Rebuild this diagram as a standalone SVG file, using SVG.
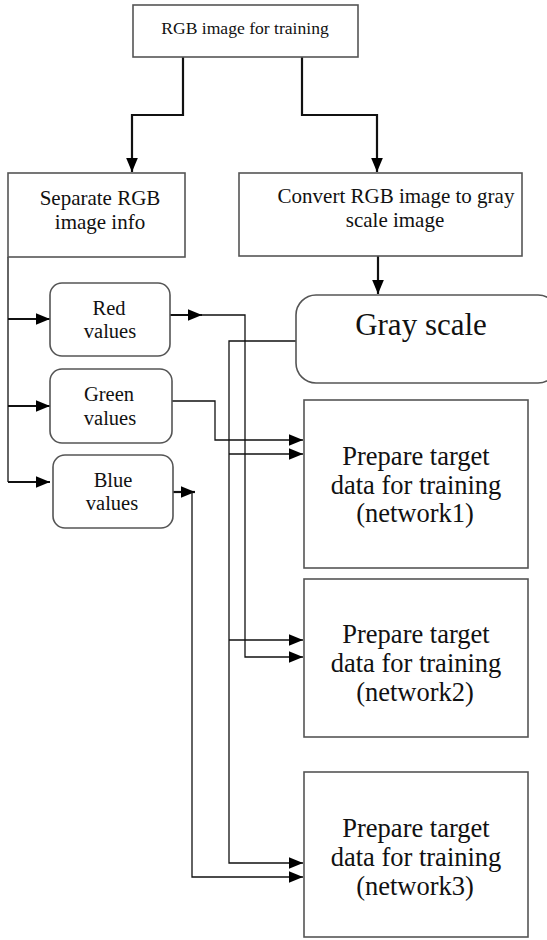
<svg xmlns="http://www.w3.org/2000/svg" width="547" height="940" viewBox="0 0 547 940">
  <style>
    .box { fill: #ffffff; stroke: #555555; stroke-width: 1.6; }
    .lbl { font-family: "Liberation Serif", "Times New Roman", serif; fill: #111111; text-anchor: middle; }
    .wire { fill: none; stroke: #111111; stroke-width: 1.3; }
    .thick { fill: none; stroke: #111111; stroke-width: 2.2; }
  </style>
  <defs>
    <marker id="arrow" viewBox="0 0 12 10" refX="12" refY="5" markerWidth="14" markerHeight="12" markerUnits="userSpaceOnUse" orient="auto">
      <path d="M0,0 L12,5 L0,10 Z" fill="#000000"/>
    </marker>
  </defs>

  <rect width="547" height="940" fill="#ffffff"/>

  <!-- connectors -->
  <g id="connectors">
    <path class="thick" d="M183,57 V115 H132 V172" marker-end="url(#arrow)"/>
    <path class="thick" d="M302,57 V115 H377 V172" marker-end="url(#arrow)"/>
    <path class="thick" d="M378,256 V294" marker-end="url(#arrow)"/>

    <path class="wire" d="M8,257 V482"/>
    <path class="thick" d="M8,319 H50" marker-end="url(#arrow)"/>
    <path class="thick" d="M8,406 H50" marker-end="url(#arrow)"/>
    <path class="thick" d="M8,482 H50" marker-end="url(#arrow)"/>

    <!-- red channel -->
    <path class="thick" d="M166,315 H202" marker-end="url(#arrow)"/>
    <path class="wire" d="M200,315 H245 V657 H303" marker-end="url(#arrow)"/>

    <!-- green channel -->
    <path class="wire" d="M172,401 H215 V440 H303" marker-end="url(#arrow)"/>

    <!-- blue channel -->
    <path class="thick" d="M173,492 H195" marker-end="url(#arrow)"/>
    <path class="wire" d="M192,492 V877 H303" marker-end="url(#arrow)"/>

    <!-- gray scale -->
    <path class="wire" d="M296,341 H229 V863 H303" marker-end="url(#arrow)"/>
    <path class="wire" d="M229,454 H303" marker-end="url(#arrow)"/>
    <path class="wire" d="M229,640 H303" marker-end="url(#arrow)"/>
  </g>

  <g id="rgb-image">
    <rect class="box" x="133" y="5" width="225" height="52"/>
    <text class="lbl" x="245" y="34" font-size="17.6">RGB image for training</text>
  </g>

  <g id="separate">
    <rect class="box" x="8" y="173" width="177" height="84"/>
    <text class="lbl" x="100" y="205" font-size="21">Separate RGB</text>
    <text class="lbl" x="100" y="229" font-size="21">image info</text>
  </g>

  <g id="convert">
    <rect class="box" x="239" y="173" width="283" height="83"/>
    <text class="lbl" x="396" y="203" font-size="21">Convert RGB image to gray</text>
    <text class="lbl" x="395" y="227" font-size="21">scale image</text>
  </g>

  <g id="gray-scale">
    <rect class="box" x="296" y="295" width="262" height="88" rx="20" ry="20"/>
    <text class="lbl" x="421" y="335" font-size="31">Gray scale</text>
  </g>

  <g id="red">
    <rect class="box" x="50" y="283" width="120" height="73" rx="12" ry="12"/>
    <text class="lbl" x="109" y="315" font-size="20.5">Red</text>
    <text class="lbl" x="110" y="338" font-size="20.5">values</text>
  </g>

  <g id="green">
    <rect class="box" x="50" y="369" width="122" height="74" rx="12" ry="12"/>
    <text class="lbl" x="109" y="401" font-size="20.5">Green</text>
    <text class="lbl" x="110" y="425" font-size="20.5">values</text>
  </g>

  <g id="blue">
    <rect class="box" x="53" y="455" width="120" height="73" rx="12" ry="12"/>
    <text class="lbl" x="113" y="487" font-size="20.5">Blue</text>
    <text class="lbl" x="112" y="510" font-size="20.5">values</text>
  </g>

  <g id="network1">
    <rect class="box" x="304" y="400" width="224" height="168"/>
    <text class="lbl" x="416" y="465" font-size="26.5">Prepare target</text>
    <text class="lbl" x="416" y="494" font-size="26.5">data for training</text>
    <text class="lbl" x="415" y="522" font-size="26.5">(network1)</text>
  </g>

  <g id="network2">
    <rect class="box" x="304" y="579" width="224" height="158"/>
    <text class="lbl" x="416" y="643" font-size="26.5">Prepare target</text>
    <text class="lbl" x="416" y="672" font-size="26.5">data for training</text>
    <text class="lbl" x="415" y="701" font-size="26.5">(network2)</text>
  </g>

  <g id="network3">
    <rect class="box" x="304" y="772" width="224" height="165"/>
    <text class="lbl" x="416" y="837" font-size="26.5">Prepare target</text>
    <text class="lbl" x="416" y="866" font-size="26.5">data for training</text>
    <text class="lbl" x="415" y="895" font-size="26.5">(network3)</text>
  </g>
</svg>
